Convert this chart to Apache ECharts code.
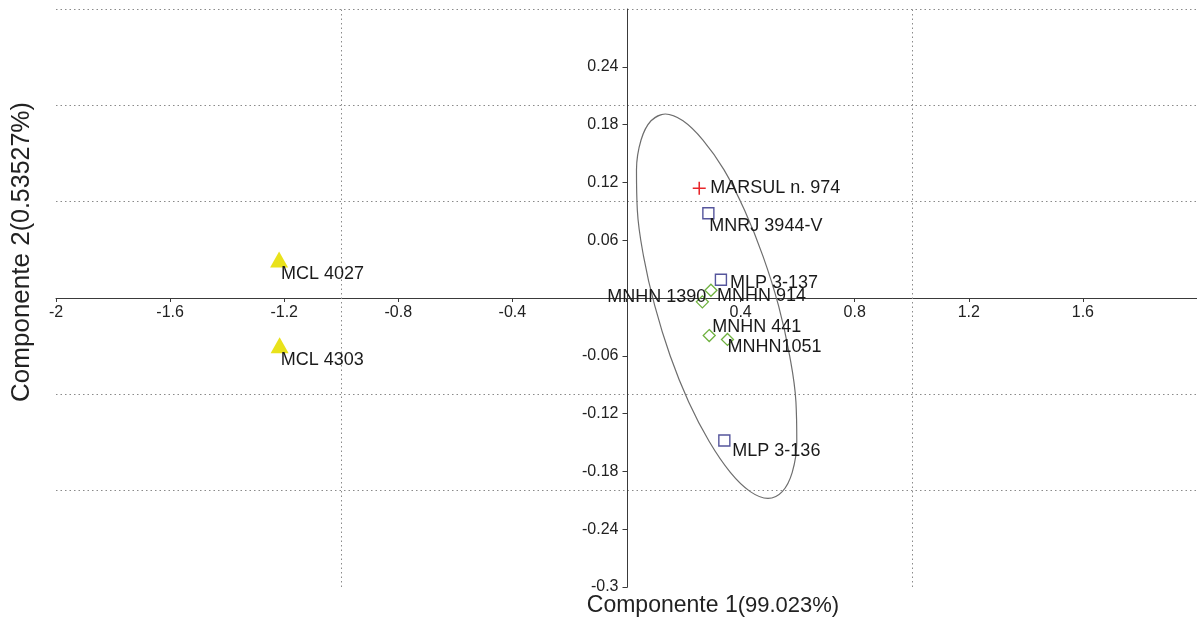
<!DOCTYPE html>
<html>
<head>
<meta charset="utf-8">
<script src="https://cdn.jsdelivr.net/npm/echarts@6/dist/echarts.min.js"></script>
<style>
html,body{margin:0;padding:0;background:#fff;}
#chart{width:1197px;height:624px;}
</style>
</head>
<body>
<div id="chart"></div>
<script>
// ---- data ----
const names = ['MARSUL n. 974', 'MNRJ 3944-V', 'MLP 3-137', 'MLP 3-136', 'MNHN 1390', 'MNHN 914', 'MNHN 441', 'MNHN1051', 'MCL 4027', 'MCL 4303'];
const comp1 = [0.255, 0.287, 0.331, 0.343, 0.266, 0.296, 0.290, 0.354, -1.218, -1.216];
const comp2 = [0.114, 0.088, 0.019, -0.148, -0.004, 0.008, -0.039, -0.043, 0.040, -0.049];
const groups = ['MARSUL', 'MNRJ-MLP', 'MNRJ-MLP', 'MNRJ-MLP', 'MNHN', 'MNHN', 'MNHN', 'MNHN', 'MCL', 'MCL'];

// confidence ellipse outline (closed, first points repeated)
const ellipseC1 = [0.086, 0.136, 0.198, 0.268, 0.342, 0.414, 0.479, 0.533, 0.572, 0.594, 0.597, 0.581, 0.546, 0.496, 0.434, 0.364, 0.290, 0.218, 0.153, 0.099, 0.060, 0.038, 0.035, 0.051, 0.086, 0.136, 0.198];
const ellipseC2 = [0.184, 0.191, 0.184, 0.164, 0.133, 0.091, 0.043, -0.008, -0.060, -0.108, -0.149, -0.181, -0.201, -0.208, -0.201, -0.181, -0.149, -0.108, -0.060, -0.008, 0.043, 0.091, 0.133, 0.164, 0.184, 0.191, 0.184];

// dotted reference lines
const vGridLines = [-1, 1];

const xTitle = 'Componente 1';
const xTitlePct = '(99.023%)';
const yTitle = 'Componente 2';
const yTitlePct = '(0.53527%)';

// ---- styles ----
const FONT = '"Liberation Sans", Arial, sans-serif';
const DOT = { color: '#8a8a8a', type: [1.5, 3], width: 1 };
const groupStyle = {
  'MARSUL': { symbol: 'path://M4.4,0h1.2v4.4h4.4v1.2h-4.4v4.4h-1.2v-4.4h-4.4v-1.2h4.4z', size: 13, color: '#e8262a', fill: '#e8262a', border: 0 },
  'MNRJ-MLP': { symbol: 'rect', size: 11, color: '#55559c', fill: 'rgba(255,255,255,0)', border: 1.4 },
  'MNHN': { symbol: 'diamond', size: 12, color: '#6fb13f', fill: 'rgba(255,255,255,0)', border: 1.3 },
  'MCL': { symbol: 'triangle', size: [18, 16], color: '#e9e21b', fill: '#e9e21b', border: 0 }
};
const labelStyle = {
  'MARSUL n. 974': { offset: [11, 0] },
  'MNRJ 3944-V': { offset: [1, 13] },
  'MLP 3-137': { offset: [9, 3] },
  'MLP 3-136': { offset: [8, 10] },
  'MNHN 1390': { offset: [4, -5], align: 'right' },
  'MNHN 914': { offset: [6, 6] },
  'MNHN 441': { offset: [3, -9] },
  'MNHN1051': { offset: [0, 8] },
  'MCL 4027': { offset: [2, 15] },
  'MCL 4303': { offset: [1, 15] }
};

const GRID = { left: 56, top: 9, width: 1143, height: 578 };

const groupOrder = ['MARSUL', 'MNRJ-MLP', 'MNHN', 'MCL'];
const scatterSeries = groupOrder.map(g => {
  const st = groupStyle[g];
  const data = [];
  names.forEach((n, i) => {
    if (groups[i] !== g) return;
    const ls = labelStyle[n];
    data.push({
      name: n,
      value: [comp1[i], comp2[i]],
      label: { offset: ls.offset, align: ls.align || 'left' }
    });
  });
  return {
    type: 'scatter',
    name: g,
    xAxisIndex: 0, yAxisIndex: 0,
    symbol: st.symbol,
    symbolSize: st.size,
    itemStyle: { color: st.fill, borderColor: st.color, borderWidth: st.border, opacity: 1 },
    label: {
      show: true,
      position: 'inside',
      formatter: p => p.name,
      color: '#1a1a1a',
      fontFamily: FONT,
      fontSize: 18,
      align: 'left',
      verticalAlign: 'middle'
    },
    z: 5,
    silent: true,
    data: data
  };
});

const ellipseData = ellipseC1.map((x, i) => [x, ellipseC2[i]]);

const fmt = v => String(Math.round(v * 100) / 100);

const option = {
  animation: false,
  backgroundColor: '#ffffff',
  grid: { left: GRID.left, top: GRID.top, width: GRID.width, height: GRID.height, containLabel: false },
  xAxis: [
    {
      type: 'value', min: -2, max: 2, interval: 0.4,
      position: 'bottom',
      offset: -GRID.height / 2,
      axisLine: { show: true, onZero: false, lineStyle: { color: '#3a3a3a', width: 1 } },
      axisTick: { show: true, length: 4, lineStyle: { color: '#3a3a3a' } },
      axisLabel: {
        margin: 7, fontFamily: FONT, fontSize: 16, color: '#222',
        showMinLabel: true, showMaxLabel: false,
        formatter: v => (Math.abs(v) < 1e-9 || Math.abs(v - 2) < 1e-9) ? '' : fmt(v)
      },
      splitLine: { show: false }
    }
  ],
  yAxis: [
    {
      type: 'value', min: -0.3, max: 0.3, interval: 0.06,
      position: 'left',
      offset: -GRID.width / 2,
      axisLine: { show: true, onZero: false, lineStyle: { color: '#3a3a3a', width: 1 } },
      axisTick: { show: true, length: 5, lineStyle: { color: '#3a3a3a' } },
      axisLabel: {
        margin: 9, fontFamily: FONT, fontSize: 16, color: '#222',
        showMinLabel: true, showMaxLabel: false,
        formatter: v => (Math.abs(v) < 1e-9 || Math.abs(v - 0.3) < 1e-9) ? '' : fmt(v)
      },
      splitLine: { show: false }
    },
    {
      type: 'value', min: -0.3, max: 0.3, interval: 0.1, position: 'right',
      axisLine: { show: false, onZero: false },
      axisTick: { show: false }, axisLabel: { show: false },
      splitLine: { show: true, showMinLine: false, showMaxLine: true, lineStyle: DOT }
    }
  ],
  series: [
    {
      type: 'line',
      name: 'ellipse',
      xAxisIndex: 0, yAxisIndex: 0,
      data: ellipseData,
      smooth: 0.4,
      showSymbol: false,
      symbol: 'none',
      lineStyle: { color: '#6e6e6e', width: 1.2 },
      z: 3,
      silent: true,
      markLine: {
        silent: true,
        symbol: ['none', 'none'],
        label: { show: false },
        lineStyle: DOT,
        z: 1,
        data: vGridLines.map(v => ({ xAxis: v }))
      }
    }
  ].concat(scatterSeries),
  graphic: [
    {
      type: 'text',
      x: 713, y: 606,
      style: {
        text: '{a|' + xTitle + '}{b|' + xTitlePct + '}',
        rich: {
          a: { fontFamily: FONT, fontSize: 23, fill: '#222' },
          b: { fontFamily: FONT, fontSize: 22, fill: '#222' }
        },
        align: 'center', verticalAlign: 'middle'
      }
    },
    {
      type: 'text',
      x: 22, y: 252,
      rotation: Math.PI / 2,
      style: {
        text: '{a|' + yTitle + '}{b|' + yTitlePct + '}',
        rich: {
          a: { fontFamily: FONT, fontSize: 26, fill: '#222' },
          b: { fontFamily: FONT, fontSize: 25, fill: '#222' }
        },
        align: 'center', verticalAlign: 'middle'
      }
    }
  ]
};

const chart = echarts.init(document.getElementById('chart'), null, { renderer: 'canvas' });
chart.setOption(option);
</script>
</body>
</html>
